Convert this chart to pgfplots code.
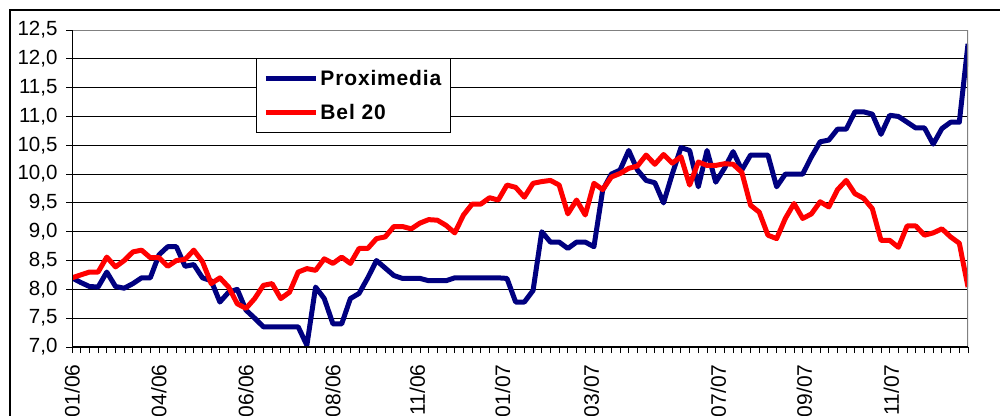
\documentclass[border=0pt]{standalone}
\usepackage{pgfplots}
\usepackage{pgfplotstable}
\pgfplotsset{compat=1.18}
\usepackage{fontspec}
\setmainfont{Liberation Sans}
\definecolor{navy}{HTML}{000080}
\definecolor{bred}{HTML}{FF0000}

\pgfplotstableread{
i prox bel
0 8.20 8.20
1 8.12 8.25
2 8.05 8.30
3 8.04 8.30
4 8.30 8.56
5 8.05 8.39
6 8.02 8.50
7 8.10 8.65
8 8.20 8.68
9 8.20 8.55
10 8.60 8.55
11 8.74 8.40
12 8.74 8.50
13 8.40 8.52
14 8.43 8.68
15 8.20 8.48
16 8.15 8.10
17 7.78 8.20
18 7.95 8.04
19 8.00 7.75
20 7.64 7.67
21 7.50 7.84
22 7.35 8.07
23 7.35 8.10
24 7.35 7.84
25 7.35 7.95
26 7.35 8.30
27 7.03 8.36
28 8.04 8.33
29 7.84 8.53
30 7.40 8.45
31 7.40 8.56
32 7.84 8.45
33 7.93 8.71
34 8.20 8.71
35 8.50 8.88
36 8.37 8.91
37 8.24 9.09
38 8.19 9.09
39 8.19 9.05
40 8.19 9.15
41 8.15 9.21
42 8.15 9.20
43 8.15 9.11
44 8.20 8.98
45 8.20 9.29
46 8.20 9.48
47 8.20 9.48
48 8.20 9.59
49 8.20 9.55
50 8.19 9.81
51 7.78 9.77
52 7.78 9.60
53 7.98 9.84
54 9.00 9.87
55 8.82 9.89
56 8.82 9.81
57 8.71 9.31
58 8.82 9.55
59 8.82 9.29
60 8.74 9.84
61 9.72 9.73
62 10.00 9.95
63 10.07 10.01
64 10.41 10.10
65 10.07 10.14
66 9.89 10.33
67 9.85 10.17
68 9.50 10.34
69 10.00 10.19
70 10.46 10.30
71 10.41 9.81
72 9.78 10.21
73 10.41 10.15
74 9.86 10.15
75 10.10 10.18
76 10.39 10.17
77 10.07 10.03
78 10.33 9.46
79 10.33 9.34
80 10.33 8.94
81 9.78 8.88
82 10.00 9.23
83 10.00 9.49
84 10.00 9.23
85 10.30 9.31
86 10.56 9.52
87 10.59 9.43
88 10.78 9.73
89 10.78 9.89
90 11.08 9.66
91 11.08 9.58
92 11.04 9.40
93 10.69 8.85
94 11.02 8.85
95 11.00 8.73
96 10.90 9.10
97 10.80 9.10
98 10.80 8.94
99 10.52 8.98
100 10.79 9.05
101 10.90 8.91
102 10.90 8.80
103 12.26 8.04
}\datatable

\begin{document}
\begin{tikzpicture}[x=1pt,y=1pt]
\useasboundingbox (0,0) rectangle (1000,415);
\clip (0,0) rectangle (1000,415);
\fill[white] (0,0) rectangle (1000,415);
\draw[black, line width=1.3pt] (10,-30) -- (10,405) -- (1030,405);
\begin{axis}[
  at={(72pt,68pt)}, anchor=south west,
  scale only axis, width=896pt, height=317pt,
  xmin=0, xmax=103, ymin=7, ymax=12.5,
  ytick={7,7.5,8,8.5,9,9.5,10,10.5,11,11.5,12,12.5},
  xtick={0,10,20,30,39.7,49.5,59.7,74.3,84.2,94.2},
  xticklabels={01/06,04/06,06/06,08/06,11/06,01/07,03/07,07/07,09/07,11/07},
  minor xtick={0,1,...,103},
  major x tick style={draw=none},
  tick align=outside,
  major tick length=6pt, minor tick length=6pt,
  tick style={black, line width=0.9pt},
  xtick pos=bottom, ytick pos=left,
  axis line style={draw=none},
  ymajorgrids, major grid style={black, line width=0.9pt},
  ticklabel style={font=\fontsize{20.5}{24}\selectfont},
  xticklabel style={rotate=90, anchor=east, xshift=-8pt, font=\fontsize{21}{24}\selectfont},
  yticklabel style={xshift=-5pt, /pgf/number format/.cd, fixed, fixed zerofill, precision=1, use comma, assume math mode=true},
  legend style={at={(0.2054,0.9117)}, anchor=north west, draw=black, line width=0.9pt,
    font=\bfseries\fontsize{21}{24}\selectfont\addfontfeatures{LetterSpace=4},
    inner xsep=7pt, inner ysep=10pt,
    row sep=13pt, cells={anchor=west}},
  legend image code/.code={\draw[#1] (0pt,0pt) -- (50pt,0pt);},
]
\addplot[navy, line width=5pt, line join=round] table[x=i, y=prox] {\datatable};
\addlegendentry{Proximedia}
\addplot[bred, line width=5pt, line join=round] table[x=i, y=bel] {\datatable};
\addlegendentry{Bel 20}
\draw[gray, line width=1.2pt] (rel axis cs:0,1) -- (rel axis cs:1,1) -- (rel axis cs:1,0);
\draw[black, line width=1.2pt] (rel axis cs:0,1) -- (rel axis cs:0,0) -- (rel axis cs:1,0);
\end{axis}
\end{tikzpicture}
\end{document}
